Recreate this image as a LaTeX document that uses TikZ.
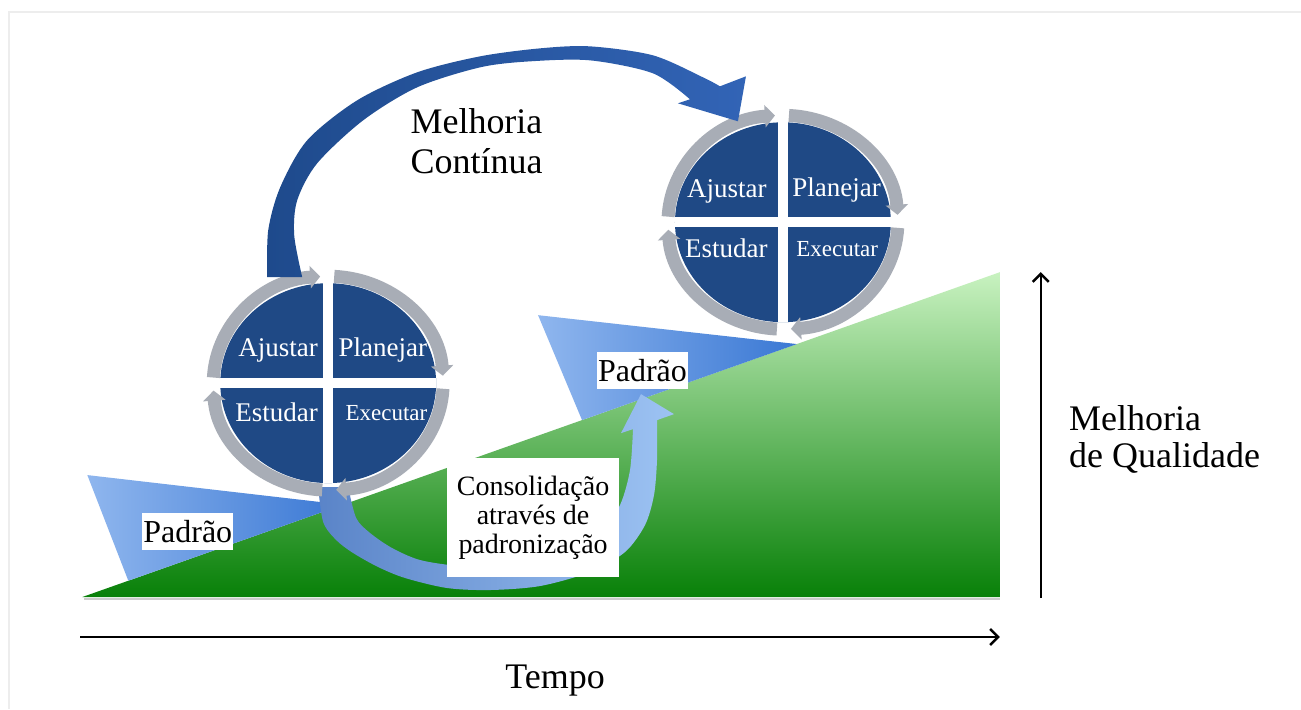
\documentclass[tikz,border=0pt]{standalone}
\usepackage{fontspec}
\setmainfont{Liberation Serif}
\usetikzlibrary{arrows.meta}
\definecolor{pdsablue}{RGB}{31,73,133}
\definecolor{ringgray}{RGB}{168,173,182}
\definecolor{greendark}{RGB}{8,128,8}
\definecolor{greenlight}{RGB}{200,242,192}
\definecolor{wedgelight}{RGB}{143,182,238}
\definecolor{wedgedark}{RGB}{58,120,212}
\definecolor{ribbondark}{RGB}{30,74,140}
\definecolor{ribbonmid}{RGB}{122,166,234}
\definecolor{ribbonend}{RGB}{50,100,182}
\definecolor{loopleft}{RGB}{90,132,200}
\definecolor{loopright}{RGB}{157,195,243}
\begin{document}
\begin{tikzpicture}[scale=1.000000,x=0.5pt,y=0.5pt,
  ringarc/.style={color=ringgray,line width=6.5pt,-{Triangle[width=11pt,length=5pt]}},
  quadtext/.style={color=white,inner sep=0pt,font=\fontsize{13.5pt}{14pt}\selectfont},
  smallquad/.style={quadtext,font=\fontsize{11.5pt}{12pt}\selectfont},
  padraolabel/.style={fill=white,inner sep=0pt,minimum width=45.5pt,minimum height=18.5pt,font=\fontsize{16pt}{17pt}\selectfont},
  bigtext/.style={inner sep=0pt,font=\fontsize{18pt}{20pt}\selectfont},
  axisarrow/.style={line width=1.2pt,-{Straight Barb[length=4pt,width=8pt]}}]
\filldraw[color=white] (0.000000,0.000000) rectangle (1301.000000,709.000000);
\useasboundingbox (0.000000,0.000000) rectangle (1301.000000,709.000000);
\draw[color=black!7,line width=1pt] (9.000000,0.000000) -- (9.000000,697.000000) -- (1301.000000,697.000000);
% Drawing the ramp
\shade[top color=greenlight,bottom color=greendark] (82.000000,112.000000) -- (1000.000000,112.000000) -- (1000.000000,437.000000) -- cycle;
\draw[color=black!20,line width=1pt] (84.000000,110.000000) -- (1000.000000,110.000000);
% Wedge 1: Padrao under the first cycle
\shade[left color=wedgelight,right color=wedgedark] (87.000000,234.000000) -- (128.000000,128.300000) -- (343.000000,204.400000) -- cycle;
% Wedge 2: Padrao under the second cycle
\shade[left color=wedgelight,right color=wedgedark] (538.000000,394.000000) -- (582.000000,289.000000) -- (797.000000,365.100000) -- cycle;
% Done with ramp; drawing consolidation loop
\shade[left color=loopleft,right color=loopright]
  plot[smooth] coordinates {(318,222) (323,187) (336,169) (353,156) (378,142) (405,131) (447,121) (490,119) (540,123) (590,137) (625,157) (645,184) (654,214) (657,249) (657,289)}
  -- (674.000000,295.000000) -- (641.000000,315.000000) -- (621.000000,276.000000) --
  plot[smooth] coordinates {(633,280) (630,239) (620,204) (600,174) (560,151) (510,142) (460,143) (420,149) (392,161) (370,176) (356,191) (348,222)}
  -- cycle;
\node[fill=white,inner sep=0pt,minimum width=86pt,minimum height=59.5pt,align=center,font=\fontsize{14pt}{14.5pt}\selectfont] (consolidacao) at (533.000000,191.500000) {Consolidação\\através de\\padronização};
\node[padraolabel] (padraoL) at (187.500000,177.500000) {Padrão};
\node[padraolabel] (padraoR) at (642.500000,339.000000) {Padrão};
% Drawing cycles
% Cycle 1: center (328,326)
\coordinate (pdsaL) at (328.000000,326.000000);
\fill[color=pdsablue] (pdsaL) ellipse [x radius=108,y radius=100];
\draw[color=white,line width=5pt] (220.000000,326.000000) -- (436.000000,326.000000);
\draw[color=white,line width=5pt] (328.000000,226.000000) -- (328.000000,426.000000);
\draw[ringarc] (pdsaL) ++(177:115 and 107) arc[start angle=177,end angle=94,x radius=115,y radius=107];
\draw[ringarc] (pdsaL) ++(87:115 and 107) arc[start angle=87,end angle=4,x radius=115,y radius=107];
\draw[ringarc] (pdsaL) ++(-3:115 and 107) arc[start angle=-3,end angle=-86,x radius=115,y radius=107];
\draw[ringarc] (pdsaL) ++(-93:115 and 107) arc[start angle=-93,end angle=-176,x radius=115,y radius=107];
\node[quadtext,anchor=base east] (ajustarL) at (318.000000,353.000000) {Ajustar};
\node[quadtext,anchor=base west] (planejarL) at (338.000000,353.000000) {Planejar};
\node[quadtext,anchor=base east] (estudarL) at (318.000000,288.000000) {Estudar};
\node[smallquad,anchor=base west] (executarL) at (345.000000,289.000000) {Executar};
% Cycle 2: center (783,487)
\coordinate (pdsaR) at (783.000000,487.000000);
\fill[color=pdsablue] (pdsaR) ellipse [x radius=108,y radius=100];
\draw[color=white,line width=5pt] (675.000000,487.000000) -- (891.000000,487.000000);
\draw[color=white,line width=5pt] (783.000000,387.000000) -- (783.000000,587.000000);
\draw[ringarc] (pdsaR) ++(177:115 and 107) arc[start angle=177,end angle=94,x radius=115,y radius=107];
\draw[ringarc] (pdsaR) ++(87:115 and 107) arc[start angle=87,end angle=4,x radius=115,y radius=107];
\draw[ringarc] (pdsaR) ++(-3:115 and 107) arc[start angle=-3,end angle=-86,x radius=115,y radius=107];
\draw[ringarc] (pdsaR) ++(-93:115 and 107) arc[start angle=-93,end angle=-176,x radius=115,y radius=107];
\node[quadtext,anchor=base east] (ajustarR) at (767.000000,512.000000) {Ajustar};
\node[quadtext,anchor=base west] (planejarR) at (792.000000,513.000000) {Planejar};
\node[quadtext,anchor=base east] (estudarR) at (768.000000,452.000000) {Estudar};
\node[smallquad,anchor=base west] (executarR) at (796.000000,453.000000) {Executar};
% Done with cycles; drawing improvement arrow
\shade[left color=ribbondark,middle color=ribbonmid,right color=ribbonend]
  plot[smooth] coordinates {(267,432) (268,479) (280,522) (307,569) (357,609) (417,637) (480,653) (540,661) (590,663) (653,654) (703,632) (720,623)}
  -- (746.000000,633.000000) -- (738.000000,588.000000) -- (678.000000,606.000000) --
  plot[smooth] coordinates {(690,610) (653,636) (590,649) (530,648) (480,642) (417,622) (363,589) (317,546) (297,509) (294,474) (302,432)}
  -- cycle;
\node[bigtext,anchor=base west] (melhoria) at (410.000000,576.000000) {Melhoria};
\node[bigtext,anchor=base west] (continua) at (410.000000,536.000000) {Contínua};
% Drawing axes
\coordinate (tempo0) at (80.000000,72.000000);
\coordinate (tempo1) at (1000.000000,72.000000);
\draw[axisarrow] (tempo0) -- (tempo1);
\node[bigtext,anchor=base] (tempo) at (555.000000,20.000000) {Tempo};
\coordinate (qual0) at (1041.000000,111.000000);
\coordinate (qual1) at (1041.000000,437.000000);
\draw[axisarrow] (qual0) -- (qual1);
\node[bigtext,anchor=base west] (melhoriaQ) at (1069.000000,279.000000) {Melhoria};
\node[bigtext,anchor=base west] (qualidade) at (1069.000000,242.000000) {de Qualidade};
% Done with axes
\end{tikzpicture}
\end{document}
